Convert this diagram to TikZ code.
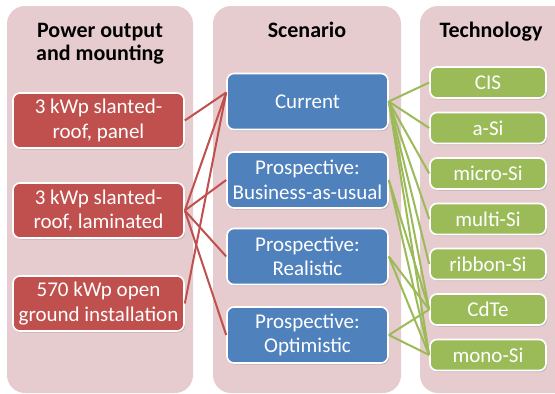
\documentclass[tikz,border=0pt]{standalone}
\usepackage{fontspec}
\setmainfont{Carlito}
\usetikzlibrary{shadows}
\definecolor{panelc}{RGB}{230,204,206}
\definecolor{redc}{RGB}{192,80,77}
\definecolor{bluec}{RGB}{79,129,189}
\definecolor{greenc}{RGB}{155,187,89}
\begin{document}
\begin{tikzpicture}[x=1pt,y=-1pt,
  panel/.style={fill=panelc, draw=none, rounded corners=18pt},
  header/.style={inner sep=0pt, align=center, text=black, font=\fontsize{22}{23}\selectfont\bfseries},
  box/.style={rectangle, rounded corners=7pt, draw=white, line width=1.6pt, text=white, align=center,
    inner sep=0pt, font=\fontsize{21}{24.5}\selectfont,
    drop shadow={shadow xshift=1.2pt, shadow yshift=-1.5pt, opacity=0.35}},
  redbox/.style={box, fill=redc, minimum width=171pt, minimum height=55pt},
  bluebox/.style={box, fill=bluec, minimum width=161pt, minimum height=56pt},
  greenbox/.style={box, fill=greenc, minimum width=116pt, minimum height=31pt},
  redline/.style={draw=redc, line width=2pt},
  greenline/.style={draw=greenc, line width=2pt}
]
\clip (0,0) rectangle (555,394);
\fill[white] (0,0) rectangle (555,394);
% panels
\path[panel] (7,6) rectangle (193,393);
\path[panel] (213,6) rectangle (401,393);
\path[panel] (420,6) rectangle (590,393);
% headers
\node[header, anchor=north] (h1) at (100,23) {Power output\\and mounting};
\node[header, anchor=base] (h2) at (307,37) {Scenario};
\node[header, anchor=base] (h3) at (491,37) {Technology};
% red boxes
\node[redbox] (p1) at (98.5,120.5) {3 kWp slanted-\\roof, panel};
\node[redbox] (p2) at (98.5,210.5) {3 kWp slanted-\\roof, laminated};
\node[redbox] (p3) at (98.5,303.5) {570 kWp open\\ground installation};
% blue boxes
\node[bluebox] (cur) at (307.5,101.5) {Current};
\node[bluebox] (bau) at (307.5,180) {Prospective:\\Business-as-usual};
\node[bluebox] (rea) at (307.5,256.5) {Prospective:\\Realistic};
\node[bluebox] (opt) at (307.5,335) {Prospective:\\Optimistic};
% green boxes
\node[greenbox] (cis) at (488,82.5) {CIS};
\node[greenbox] (asi) at (488,128) {a-Si};
\node[greenbox] (mic) at (488,173.5) {micro-Si};
\node[greenbox] (mul) at (488,219) {multi-Si};
\node[greenbox] (rib) at (488,264) {ribbon-Si};
\node[greenbox] (cdte) at (488,309.5) {CdTe};
\node[greenbox] (mono) at (488,355) {mono-Si};
% red connectors
\draw[redline] (p1.east) -- ([yshift=9pt]cur.west);
\draw[redline] (p2.east) -- ([yshift=9pt]cur.west);
\draw[redline] (p3.east) -- ([yshift=9pt]cur.west);
\draw[redline] (p2.east) -- (bau.west);
\draw[redline] (p2.east) -- (rea.west);
\draw[redline] (p2.east) -- (opt.west);
% green connectors
\foreach \t in {cis,asi,mic,mul,rib,cdte,mono}{
  \draw[greenline] (cur.east) -- (\t.west);
}
\foreach \s in {bau,rea,opt}{
  \draw[greenline] (\s.east) -- (cdte.west);
  \draw[greenline] (\s.east) -- (mono.west);
}
\end{tikzpicture}
\end{document}
